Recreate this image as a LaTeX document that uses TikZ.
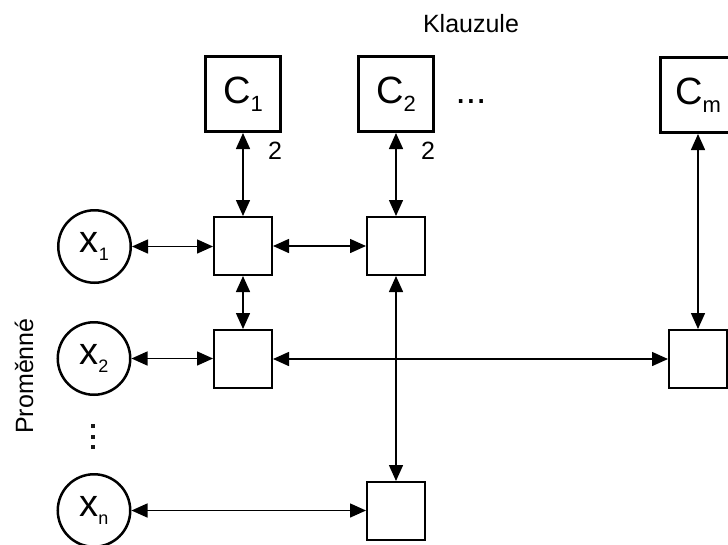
\documentclass[tikz,border=0pt]{standalone}
\usepackage{fontspec}
\setmainfont{Liberation Sans}
\usetikzlibrary{arrows.meta}
\begin{document}
\begin{tikzpicture}[x=1pt,y=-1pt,
  big/.style={draw, line width=3pt, minimum size=75pt, inner sep=0pt, font=\fontsize{38}{38}\selectfont},
  cell/.style={draw, line width=2pt, minimum size=58pt, inner sep=0pt},
  var/.style={draw, circle, line width=2.5pt, minimum size=72.5pt, inner sep=0pt, font=\fontsize{38}{38}\selectfont},
  conn/.style={line width=1.5pt, {Triangle[length=16pt,width=14pt]}-{Triangle[length=16pt,width=14pt]}},
  lbl/.style={font=\fontsize{25}{25}\selectfont},
  dotsq/.style={fill=black!90, draw=none, minimum size=4pt, inner sep=0pt}]
\useasboundingbox (0,0) rectangle (728,544);

\newcommand{\csub}[1]{\raisebox{-8pt}{\fontsize{22}{22}\selectfont #1}}
\newcommand{\xsub}[1]{\raisebox{-8pt}{\fontsize{18}{18}\selectfont #1}}

% clause boxes
\node[big] (c1) at (243,94) {C\csub{1}};
\node[big] (c2) at (396,94) {C\csub{2}};
\node[big] (cm) at (698,95) {C\csub{m}};
\node[font=\fontsize{37}{37}\selectfont, anchor=base] (hd) at (471,103) {...};
\node[lbl] (kl) at (471,24) {Klauzule};

% variable circles
\node[var] (x1) at (94.5,246.5) {x\xsub{1}};
\node[var] (x2) at (94,358.5) {x\xsub{2}};
\node[var] (xn) at (94,510.5) {x\xsub{n}};
\node[lbl, rotate=90] (pr) at (24,376) {Proměnné};
\node[dotsq] (d1) at (93,426) {};
\node[dotsq] (d2) at (93,437) {};
\node[dotsq] (d3) at (93,447) {};

% cells
\node[cell] (b11) at (243,246) {};
\node[cell] (b12) at (396,246) {};
\node[cell] (b21) at (243,359) {};
\node[cell] (b2m) at (698,359) {};
\node[cell] (bn2) at (396,511) {};

% labels
\node[lbl] (t1) at (275,151) {2};
\node[lbl] (t2) at (428,151) {2};

% connectors
\draw[conn] (c1) -- (b11);
\draw[conn] (c2) -- (b12);
\draw[conn] (cm.south) -- (b2m.north);
\draw[conn] (b11) -- (b21);
\draw[conn] (b12) -- (bn2);
\draw[conn] (x1.east) -- (x1.east -| b11.west);
\draw[conn] (b11) -- (b12);
\draw[conn] (x2.east) -- (x2.east -| b21.west);
\draw[conn] (b21.east) -- (b2m.west);
\draw[conn] (xn.east) -- (xn.east -| bn2.west);
\end{tikzpicture}
\end{document}
